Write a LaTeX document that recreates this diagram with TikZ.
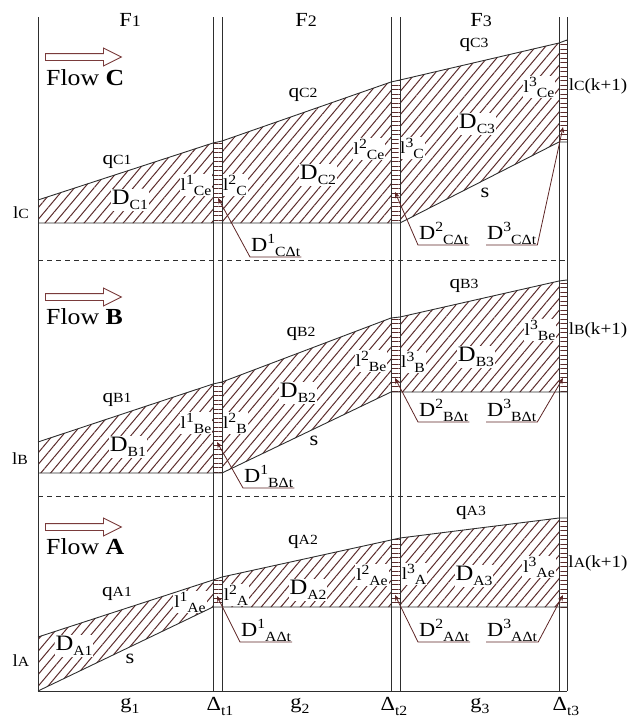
\documentclass[tikz,border=0pt]{standalone}
\usepackage{fontspec}
\setmainfont{Liberation Serif}[FakeStretch=1.12]
\usepackage{xcolor}
\definecolor{cLine}{HTML}{2E2E2E}
\definecolor{cHatch}{HTML}{5C2C2C}
\definecolor{cLead}{HTML}{5E2525}
\definecolor{cFlow}{HTML}{7A3B3B}
\usepackage{tikz}
\usetikzlibrary{positioning,arrows.meta,patterns.meta,shapes.arrows}
\newcommand{\sm}[1]{{\fontsize{14}{14}\selectfont #1}}
\newcommand{\up}[1]{\raisebox{0.4em}{\fontsize{14}{14}\selectfont #1}}
\newcommand{\dn}[1]{\raisebox{-0.25em}{\fontsize{14}{14}\selectfont #1}}
\tikzset{
  frame-line/.style={draw=cLine,line width=1pt},
  bound-line/.style={draw=cLine,line width=0.9pt},
  sep-line/.style={draw=cLine,line width=0.9pt,dash pattern=on 5pt off 4pt},
  area-hatch/.style={pattern={Lines[angle=50,distance=7.5pt,line width=1pt]},
    pattern color=cHatch},
  bar-hatch/.style={pattern={Lines[angle=0,distance=4.5pt,line width=1pt]},
    pattern color=cHatch},
  lab-area/.style={font=\fontsize{22}{24}\selectfont,fill=white,inner sep=1pt},
  lab-len/.style={font=\fontsize{17}{20}\selectfont,fill=white,inner sep=1pt},
  lab-q/.style={font=\fontsize{19}{22}\selectfont,inner sep=1pt},
  lab-dt/.style={font=\fontsize{20}{22}\selectfont,anchor=south west,
    inner xsep=1pt,inner ysep=0.5pt},
  lab-axis/.style={font=\fontsize{20}{22}\selectfont,inner sep=1pt},
  lab-side/.style={font=\fontsize{17}{20}\selectfont,inner sep=1pt},
  lab-flow/.style={font=\fontsize{23}{24}\selectfont,anchor=west,inner sep=1pt},
  leader/.style={draw=cLead,line width=0.8pt},
  flow-arrow/.style={single arrow,draw=cFlow,line width=0.9pt,fill=white,
    minimum height=76pt,inner sep=3pt,single arrow head extend=5.5pt,
    single arrow tip angle=53,anchor=west},
}
\begin{document}
\begin{tikzpicture}[x=1pt,y=-1pt]
  \useasboundingbox (0,0) rectangle (629,720);
  % flow C
  \fill[area-hatch] (38,200) -- (213,143) -- (213,223) -- (38,223) -- cycle;
  \fill[bar-hatch] (213,143) -- (222,141) -- (222,223) -- (213,223) -- cycle;
  \fill[area-hatch] (222,141) -- (391,82) -- (391,223) -- (222,223) -- cycle;
  \fill[bar-hatch] (391,82) -- (400,80) -- (400,223) -- (391,223) -- cycle;
  \fill[area-hatch] (400,80) -- (559,43) -- (559,142) -- (400,223) -- cycle;
  \fill[bar-hatch] (559,43) -- (567,40) -- (567,142) -- (559,142) -- cycle;
  % flow B
  \fill[area-hatch] (38,442) -- (213,384) -- (213,473) -- (38,473) -- cycle;
  \fill[bar-hatch] (213,384) -- (222,382) -- (222,473) -- (213,473) -- cycle;
  \fill[area-hatch] (222,382) -- (391,318) -- (391,392) -- (222,473) -- cycle;
  \fill[bar-hatch] (391,318) -- (400,317) -- (400,392) -- (391,392) -- cycle;
  \fill[area-hatch] (400,317) -- (559,281) -- (559,392) -- (400,392) -- cycle;
  \fill[bar-hatch] (559,281) -- (567,280) -- (567,392) -- (559,392) -- cycle;
  % flow A
  \fill[area-hatch] (38,637) -- (213,580) -- (213,607) -- (38,691) -- cycle;
  \fill[bar-hatch] (213,580) -- (222,577) -- (222,607) -- (213,607) -- cycle;
  \fill[area-hatch] (222,577) -- (391,540) -- (391,607) -- (222,607) -- cycle;
  \fill[bar-hatch] (391,540) -- (400,538) -- (400,607) -- (391,607) -- cycle;
  \fill[area-hatch] (400,538) -- (559,518) -- (559,607) -- (400,607) -- cycle;
  \fill[bar-hatch] (559,518) -- (567,518) -- (567,607) -- (559,607) -- cycle;

  % labels inside the areas
  \node[lab-area] (DC1) at (130,200) {D\dn{C1}};
  \node[lab-area] (DC2) at (318,175) {D\dn{C2}};
  \node[lab-area] (DC3) at (477,124) {D\dn{C3}};
  \node[lab-len] (lC1e) at (196,185) {l\up{1}\dn{Ce}};
  \node[lab-len] (lC2) at (235,185) {l\up{2}\dn{C}};
  \node[lab-len] (lC2e) at (369,149) {l\up{2}\dn{Ce}};
  \node[lab-len] (lC3) at (412,148) {l\up{3}\dn{C}};
  \node[lab-len] (lC3e) at (539,87) {l\up{3}\dn{Ce}};
  \node[lab-area] (DB1) at (128,447) {D\dn{B1}};
  \node[lab-area] (DB2) at (298,393) {D\dn{B2}};
  \node[lab-area] (DB3) at (476,357) {D\dn{B3}};
  \node[lab-len] (lB1e) at (196,423) {l\up{1}\dn{Be}};
  \node[lab-len] (lB2) at (235,423) {l\up{2}\dn{B}};
  \node[lab-len] (lB2e) at (371,361) {l\up{2}\dn{Be}};
  \node[lab-len] (lB3) at (413,362) {l\up{3}\dn{B}};
  \node[lab-len] (lB3e) at (540,330) {l\up{3}\dn{Be}};
  \node[lab-area] (DA1) at (74,646) {D\dn{A1}};
  \node[lab-area] (DA2) at (308,590) {D\dn{A2}};
  \node[lab-area] (DA3) at (474,576) {D\dn{A3}};
  \node[lab-len] (lA1e) at (190,602) {l\up{1}\dn{Ae}};
  \node[lab-len] (lA2) at (236,595) {l\up{2}\dn{A}};
  \node[lab-len] (lA2e) at (372,575) {l\up{2}\dn{Ae}};
  \node[lab-len] (lA3) at (414,574) {l\up{3}\dn{A}};
  \node[lab-len] (lA3e) at (539,567) {l\up{3}\dn{Ae}};

  % frame
  \foreach \x in {38,213,222,391,400,559,567}
    \draw[frame-line] (\x,17) -- (\x,691);
  \draw[frame-line] (38,691) -- (567,691);
  \draw[sep-line] (38,260) -- (567,260);
  \draw[sep-line] (38,496) -- (567,496);

  % q and s boundaries
  \draw[bound-line] (38,200) -- (213,143) -- (222,141) -- (391,82) -- (400,80)
    -- (559,43) -- (567,40);
  \draw[bound-line] (38,223) -- (400,223) -- (559,142) -- (567,142);
  \draw[bound-line] (38,442) -- (213,384) -- (222,382) -- (391,318) -- (400,317)
    -- (559,281) -- (567,280);
  \draw[bound-line] (38,473) -- (222,473) -- (391,392) -- (567,392);
  \draw[bound-line] (38,637) -- (213,580) -- (222,577) -- (391,540) -- (400,538)
    -- (559,518) -- (567,518);
  \draw[bound-line] (38,691) -- (213,607) -- (567,607);

  \node[lab-q] (qC1) at (117,162) {q\sm{C1}};
  \node[lab-q] (qC2) at (303,95) {q\sm{C2}};
  \node[lab-q] (qC3) at (474,45) {q\sm{C3}};
  \node[lab-q] (qB1) at (117,400) {q\sm{B1}};
  \node[lab-q] (qB2) at (301,334) {q\sm{B2}};
  \node[lab-q] (qB3) at (464,286) {q\sm{B3}};
  \node[lab-q] (qA1) at (117,594) {q\sm{A1}};
  \node[lab-q] (qA2) at (303,542) {q\sm{A2}};
  \node[lab-q] (qA3) at (471,513) {q\sm{A3}};
  \node[lab-axis] (sC) at (485,193) {s};
  \node[lab-axis] (sB) at (314,441) {s};
  \node[lab-axis] (sA) at (130,659) {s};

  % side and axis labels
  \node[lab-axis] (F1) at (130,20) {F{\fontsize{16}{16}\selectfont 1}};
  \node[lab-axis] (F2) at (306,20) {F{\fontsize{16}{16}\selectfont 2}};
  \node[lab-axis] (F3) at (481,20) {F{\fontsize{16}{16}\selectfont 3}};
  \node[lab-side] (lC) at (21,213) {l\sm{C}};
  \node[lab-side] (lB) at (20,459) {l\sm{B}};
  \node[lab-side] (lA) at (21,661) {l\sm{A}};
  \node[lab-side] (lCk) at (598,86) {l\sm{C}(k+1)};
  \node[lab-side] (lBk) at (598,330) {l\sm{B}(k+1)};
  \node[lab-side] (lAk) at (598,563) {l\sm{A}(k+1)};
  \node[lab-axis] (g1) at (130,706) {g\dn{1}};
  \node[lab-axis] (dt1) at (220,706) {Δ\dn{t1}};
  \node[lab-axis] (g2) at (300,706) {g\dn{2}};
  \node[lab-axis] (dt2) at (394,706) {Δ\dn{t2}};
  \node[lab-axis] (g3) at (480,706) {g\dn{3}};
  \node[lab-axis] (dt3) at (566,706) {Δ\dn{t3}};

  % flows
  \node[flow-arrow] (arrowC) at (45,57) {};
  \node[lab-flow] (flowC) at (45,78) {Flow \textbf{C}};
  \node[flow-arrow] (arrowB) at (45,297) {};
  \node[lab-flow] (flowB) at (45,317) {Flow \textbf{B}};
  \node[flow-arrow] (arrowA) at (45,527) {};
  \node[lab-flow] (flowA) at (45,547) {Flow \textbf{A}};

  % delta-t parts and their leaders
  \coordinate (tipC1) at (218,198);
  \coordinate (tipC2) at (395,192);
  \coordinate (tipC3) at (563,127);
  \coordinate (tipB1) at (217,442);
  \coordinate (tipB2) at (395,378);
  \coordinate (tipB3) at (563,378);
  \coordinate (tipA1) at (217,596);
  \coordinate (tipA2) at (395,595);
  \coordinate (tipA3) at (563,595);
  \node[lab-dt] (dtC1) at (250,257) {D\up{1}\dn{CΔt}};
  \node[lab-dt] (dtC2) at (418,245) {D\up{2}\dn{CΔt}};
  \node[lab-dt] (dtC3) at (486,245) {D\up{3}\dn{CΔt}};
  \node[lab-dt] (dtB1) at (243,488) {D\up{1}\dn{BΔt}};
  \node[lab-dt] (dtB2) at (418,422) {D\up{2}\dn{BΔt}};
  \node[lab-dt] (dtB3) at (486,422) {D\up{3}\dn{BΔt}};
  \node[lab-dt] (dtA1) at (240,642) {D\up{1}\dn{AΔt}};
  \node[lab-dt] (dtA2) at (418,642) {D\up{2}\dn{AΔt}};
  \node[lab-dt] (dtA3) at (486,642) {D\up{3}\dn{AΔt}};
  \foreach \f in {C,B,A} {
    \draw[leader,{Stealth[length=6pt,width=5pt]}-] (tip\f1) -- (dt\f1.south west)
      -- (dt\f1.south east);
    \draw[leader,{Stealth[length=6pt,width=5pt]}-] (tip\f2) -- (dt\f2.south west)
      -- (dt\f2.south east);
    \draw[leader,-{Stealth[length=6pt,width=5pt]}] (dt\f3.south west)
      -- (dt\f3.south east) -- (tip\f3);
  }
\end{tikzpicture}
\end{document}
